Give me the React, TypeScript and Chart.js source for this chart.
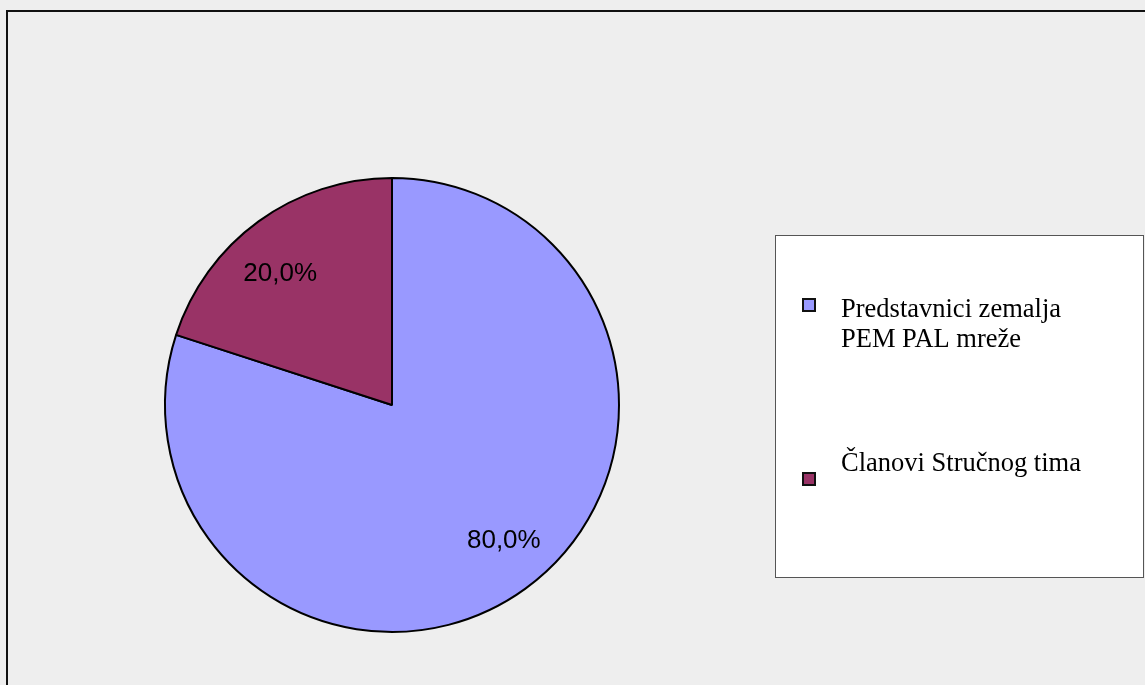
import React, { useEffect, useRef } from "react";
import { Chart, registerables } from "chart.js";

Chart.register(...registerables);

const categories: string[][] = [
  ["Predstavnici zemalja", "PEM PAL mreže"],
  ["Članovi Stručnog tima"],
];
const values: number[] = [80, 20];
const colors: string[] = ["#9999FF", "#993366"];

const W = 1145;
const H = 685;
const CX = 392;
const CY = 405;
const R = 227;

const framePlugin = {
  id: "frame",
  beforeDraw(chart: any) {
    const ctx = chart.ctx;
    ctx.save();
    ctx.fillStyle = "#eeeeee";
    ctx.fillRect(0, 0, W, H);
    ctx.strokeStyle = "#111111";
    ctx.lineWidth = 2;
    ctx.beginPath();
    ctx.moveTo(7, H + 5);
    ctx.lineTo(7, 11);
    ctx.lineTo(W + 5, 11);
    ctx.stroke();
    ctx.restore();
  },
};

const sliceLabelPlugin = {
  id: "sliceLabels",
  afterDatasetsDraw(chart: any) {
    const ctx = chart.ctx;
    const meta = chart.getDatasetMeta(0);
    const data = chart.data.datasets[0].data as number[];
    const total = data.reduce((a, b) => a + b, 0);
    const size = 26;
    ctx.save();
    ctx.font = `${size}px "Liberation Sans", Arial, sans-serif`;
    ctx.fillStyle = "#000000";
    meta.data.forEach((arc: any, i: number) => {
      const { x, y, startAngle, endAngle, outerRadius } = arc.getProps(
        ["x", "y", "startAngle", "endAngle", "outerRadius"],
        true
      );
      const mid = (startAngle + endAngle) / 2;
      const cs = Math.cos(mid);
      const sn = Math.sin(mid);
      const text = ((data[i] / total) * 100).toFixed(1).replace(".", ",") + "%";
      const w = ctx.measureText(text).width;
      const h = size * 0.72;
      // corner-anchored estimate
      const d1 = outerRadius * 0.64;
      const c1x = x + cs * d1 + Math.sign(cs) * (w / 2);
      const c1y = y + sn * d1 + Math.sign(sn) * (h / 2);
      // centre-anchored estimate
      const d2 = outerRadius * 0.76;
      const c2x = x + cs * d2;
      const c2y = y + sn * d2;
      const lx = (c1x + c2x) / 2;
      const ly = (c1y + c2y) / 2;
      ctx.textAlign = "center";
      ctx.textBaseline = "alphabetic";
      ctx.fillText(text, lx, ly + h / 2);
    });
    ctx.restore();
  },
};

const legendPlugin = {
  id: "boxLegend",
  afterDraw(chart: any) {
    const ctx = chart.ctx;
    const labels = chart.data.labels as string[][];
    const bg = chart.data.datasets[0].backgroundColor as string[];
    ctx.save();
    ctx.fillStyle = "#ffffff";
    ctx.fillRect(775, 235, 369, 343);
    ctx.strokeStyle = "#555555";
    ctx.lineWidth = 1;
    ctx.strokeRect(775.5, 235.5, 368, 342);

    const items = [
      { marker: 298, text: 317 },
      { marker: 472, text: 471 },
    ];
    ctx.font = `26.5px "Liberation Serif", "Times New Roman", serif`;
    ctx.textAlign = "left";
    ctx.textBaseline = "alphabetic";
    labels.forEach((lines, i) => {
      const it = items[i];
      ctx.fillStyle = bg[i];
      ctx.fillRect(803, it.marker + 1, 12, 12);
      ctx.strokeStyle = "#111111";
      ctx.lineWidth = 2;
      ctx.strokeRect(803, it.marker + 1, 12, 12);
      ctx.fillStyle = "#000000";
      lines.forEach((line, j) => {
        ctx.fillText(line, 841, it.text + j * 30);
      });
    });
    ctx.restore();
  },
};

export default function App() {
  const ref = useRef<HTMLCanvasElement | null>(null);
  useEffect(() => {
    document.body.style.margin = "0";
    if (!ref.current) return;
    const pad = 232;
    const chart = new Chart(ref.current, {
      type: "pie",
      data: {
        labels: categories,
        datasets: [
          {
            data: values,
            backgroundColor: colors,
            borderColor: "#000000",
            borderWidth: 2,
          },
        ],
      },
      options: {
        responsive: false,
        animation: false,
        radius: R,
        layout: {
          padding: {
            left: CX - pad,
            right: W - CX - pad,
            top: CY - pad,
            bottom: H - CY - pad,
          },
        },
        plugins: {
          legend: { display: false },
          tooltip: { enabled: false },
        },
      } as any,
      plugins: [framePlugin, sliceLabelPlugin, legendPlugin],
    });
    return () => chart.destroy();
  }, []);
  return (
    <div style={{ position: "fixed", left: 0, top: 0, width: W, height: H }}>
      <canvas ref={ref} width={W} height={H} style={{ width: W, height: H, display: "block" }} />
    </div>
  );
}
